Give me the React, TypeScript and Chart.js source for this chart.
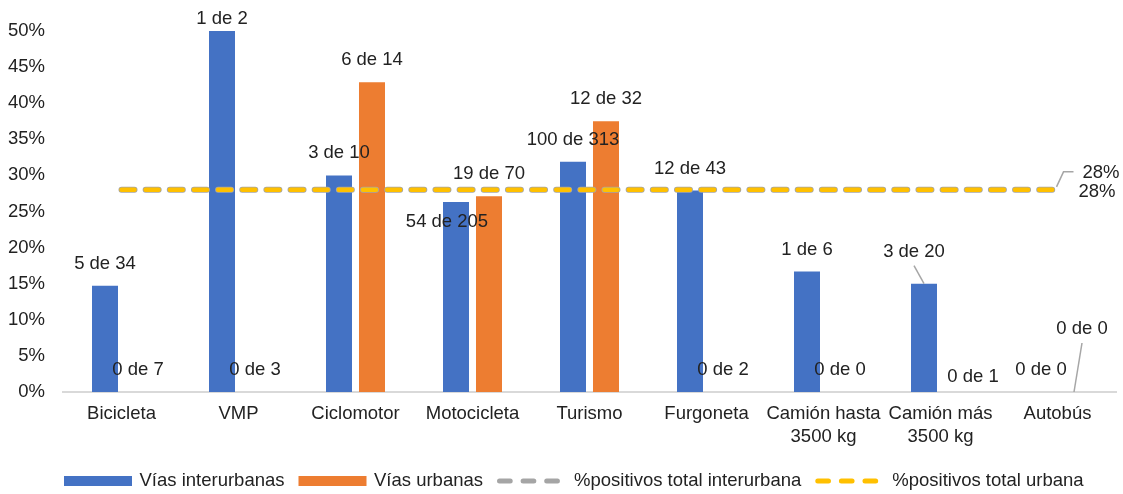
import React, { useEffect, useRef } from 'react';
import { Chart, registerables } from 'chart.js';

Chart.register(...registerables);

const categories: (string | string[])[] = [
  'Bicicleta', 'VMP', 'Ciclomotor', 'Motocicleta', 'Turismo', 'Furgoneta',
  ['Camión hasta', '3500 kg'], ['Camión más', '3500 kg'], 'Autobús',
];
const interurbanValues = [0.147, 0.5, 0.3, 0.263, 0.319, 0.279, 0.167, 0.15, 0];
const urbanValues = [0, 0, 0.429, 0.271, 0.375, 0, 0, 0, 0];
const interurbanLabels = ['5 de 34', '1 de 2', '3 de 10', '54 de 205', '100 de 313', '12 de 43', '1 de 6', '3 de 20', '0 de 0'];
const urbanLabels = ['0 de 7', '0 de 3', '6 de 14', '19 de 70', '12 de 32', '0 de 2', '0 de 0', '0 de 1', '0 de 0'];
const totalInterurban = [0.28, 0.28, 0.28, 0.28, 0.28, 0.28, 0.28, 0.28, 0.28];
const totalUrban = [0.28, 0.28, 0.28, 0.28, 0.28, 0.28, 0.28, 0.28, 0.28];
const totalInterurbanLabel = '28%';
const totalUrbanLabel = '28%';
const yTicks = [0, 0.05, 0.1, 0.15, 0.2, 0.25, 0.3, 0.35, 0.4, 0.45, 0.5];
const seriesNames = ['Vías interurbanas', 'Vías urbanas', '%positivos total interurbana', '%positivos total urbana'];

const BLUE = '#4472C4';
const ORANGE = '#ED7D31';
const GRAY = '#A5A5A5';
const YELLOW = '#FFC000';
const TEXT = '#222222';
const FONT_FAMILY = '"Liberation Sans", Arial, sans-serif';
const FONT_SIZE = 18.5;
const FONT = `${FONT_SIZE}px ${FONT_FAMILY}`;

// label nudges (dataset-index) for manually placed data labels
const labelNudges: Record<string, { dx: number; dy: number; leader?: boolean }> = {
  '0-1': { dx: 0, dy: 10 },
  '0-3': { dx: -9, dy: 42 },
  '0-7': { dx: -10, dy: -10, leader: true },
  '1-7': { dx: 16, dy: 7 },
  '1-8': { dx: 8, dy: -41, leader: true },
};

const labelPlugin = {
  id: 'barLabels',
  afterDatasetsDraw(chart: any) {
    const ctx = chart.ctx;
    ctx.save();
    ctx.font = FONT;
    ctx.fillStyle = TEXT;
    ctx.textAlign = 'center';
    ctx.textBaseline = 'middle';
    const sets = [interurbanLabels, urbanLabels];
    sets.forEach((labels, di) => {
      const meta = chart.getDatasetMeta(di);
      meta.data.forEach((bar: any, i: number) => {
        const n = labelNudges[`${di}-${i}`] || { dx: 0, dy: 0 };
        const lx = bar.x + n.dx;
        const ly = bar.y - 22 + n.dy;
        if (n.leader) {
          ctx.save();
          ctx.strokeStyle = '#A6A6A6';
          ctx.lineWidth = 1.5;
          ctx.beginPath();
          ctx.moveTo(lx, ly + 14);
          ctx.lineTo(bar.x, bar.y);
          ctx.stroke();
          ctx.restore();
        }
        ctx.fillText(labels[i], lx, ly);
      });
    });
    // line end labels
    const m2 = chart.getDatasetMeta(2);
    const m3 = chart.getDatasetMeta(3);
    const p2 = m2.data[m2.data.length - 1];
    const p3 = m3.data[m3.data.length - 1];
    ctx.textAlign = 'left';
    ctx.save();
    ctx.strokeStyle = '#A6A6A6';
    ctx.lineWidth = 1.5;
    ctx.beginPath();
    ctx.moveTo(p2.x - 1, p2.y - 3);
    ctx.lineTo(p2.x + 6, p2.y - 18);
    ctx.lineTo(p2.x + 16, p2.y - 18);
    ctx.stroke();
    ctx.restore();
    ctx.fillText(totalInterurbanLabel, p2.x + 25, p2.y - 17);
    ctx.fillText(totalUrbanLabel, p3.x + 21, p3.y + 2);
    ctx.restore();
  },
  afterDraw(chart: any) {
    const ctx = chart.ctx;
    ctx.save();
    ctx.font = FONT;
    ctx.textBaseline = 'middle';
    ctx.textAlign = 'left';
    const y = 481;
    let x = chart.chartArea.left + 1;
    const kinds = [
      { type: 'rect', color: BLUE },
      { type: 'rect', color: ORANGE },
      { type: 'line', color: GRAY },
      { type: 'line', color: YELLOW },
    ];
    kinds.forEach((k, i) => {
      if (k.type === 'rect') {
        ctx.fillStyle = k.color;
        ctx.fillRect(x, y - 5, 68, 10);
        x += 68 + 7.5;
      } else {
        ctx.strokeStyle = k.color;
        ctx.lineWidth = 5;
        ctx.lineCap = 'round';
        ctx.setLineDash([10.7, 12.9]);
        ctx.beginPath();
        ctx.moveTo(x + 2.5, y);
        ctx.lineTo(x + 60.5, y);
        ctx.stroke();
        ctx.setLineDash([]);
        x += 63 + 14;
      }
      ctx.fillStyle = TEXT;
      ctx.fillText(seriesNames[i], x, y);
      x += ctx.measureText(seriesNames[i]).width + 14;
    });
    ctx.restore();
  },
};

export default function App() {
  const ref = useRef<HTMLCanvasElement | null>(null);
  useEffect(() => {
    document.body.style.margin = '0';
    if (!ref.current) return;
    Chart.defaults.font.family = FONT_FAMILY;
    Chart.defaults.font.size = FONT_SIZE;
    Chart.defaults.color = TEXT;
    const chart = new Chart(ref.current, {
      type: 'bar',
      data: {
        labels: categories as any,
        datasets: [
          {
            type: 'bar',
            label: seriesNames[0],
            data: interurbanValues,
            backgroundColor: BLUE,
            categoryPercentage: 0.564,
            barPercentage: 0.788,
            order: 3,
          },
          {
            type: 'bar',
            label: seriesNames[1],
            data: urbanValues,
            backgroundColor: ORANGE,
            categoryPercentage: 0.564,
            barPercentage: 0.788,
            order: 3,
          },
          {
            type: 'line',
            label: seriesNames[2],
            data: totalInterurban,
            borderColor: GRAY,
            borderWidth: 6,
            borderDash: [13, 11.15],
            borderCapStyle: 'round',
            pointRadius: 0,
            tension: 0,
            fill: false,
            order: 2,
          },
          {
            type: 'line',
            label: seriesNames[3],
            data: totalUrban,
            borderColor: YELLOW,
            borderWidth: 4.5,
            borderDash: [13, 11.15],
            borderCapStyle: 'round',
            pointRadius: 0,
            tension: 0,
            fill: false,
            order: 1,
          },
        ] as any,
      },
      options: {
        responsive: false,
        animation: false,
        events: [],
        layout: { padding: { top: 31, right: 7, left: 0, bottom: 0 } },
        plugins: {
          legend: { display: false },
          tooltip: { enabled: false },
          title: { display: false },
        },
        scales: {
          x: {
            grid: { display: false, drawTicks: false },
            border: { display: true, color: '#D9D9D9', width: 2 },
            ticks: { padding: 10, color: TEXT, font: { size: FONT_SIZE, lineHeight: 1.25 }, maxRotation: 0, autoSkip: false },
            afterFit: (s: any) => { s.height = 102; },
          },
          y: {
            min: 0,
            max: 0.5,
            grid: { display: false, drawTicks: false },
            border: { display: false },
            ticks: {
              padding: 18,
              color: TEXT,
              font: { size: FONT_SIZE },
              callback: (v: any) => `${Math.round(Number(v) * 100)}%`,
            },
            afterBuildTicks: (s: any) => { s.ticks = yTicks.map((v) => ({ value: v })); },
            afterFit: (s: any) => { s.width = 63; },
          },
        },
      } as any,
      plugins: [labelPlugin],
    });
    return () => chart.destroy();
  }, []);
  return (
    <div style={{ width: 1123, height: 494 }}>
      <canvas ref={ref} width={1123} height={494} style={{ display: 'block' }} />
    </div>
  );
}
